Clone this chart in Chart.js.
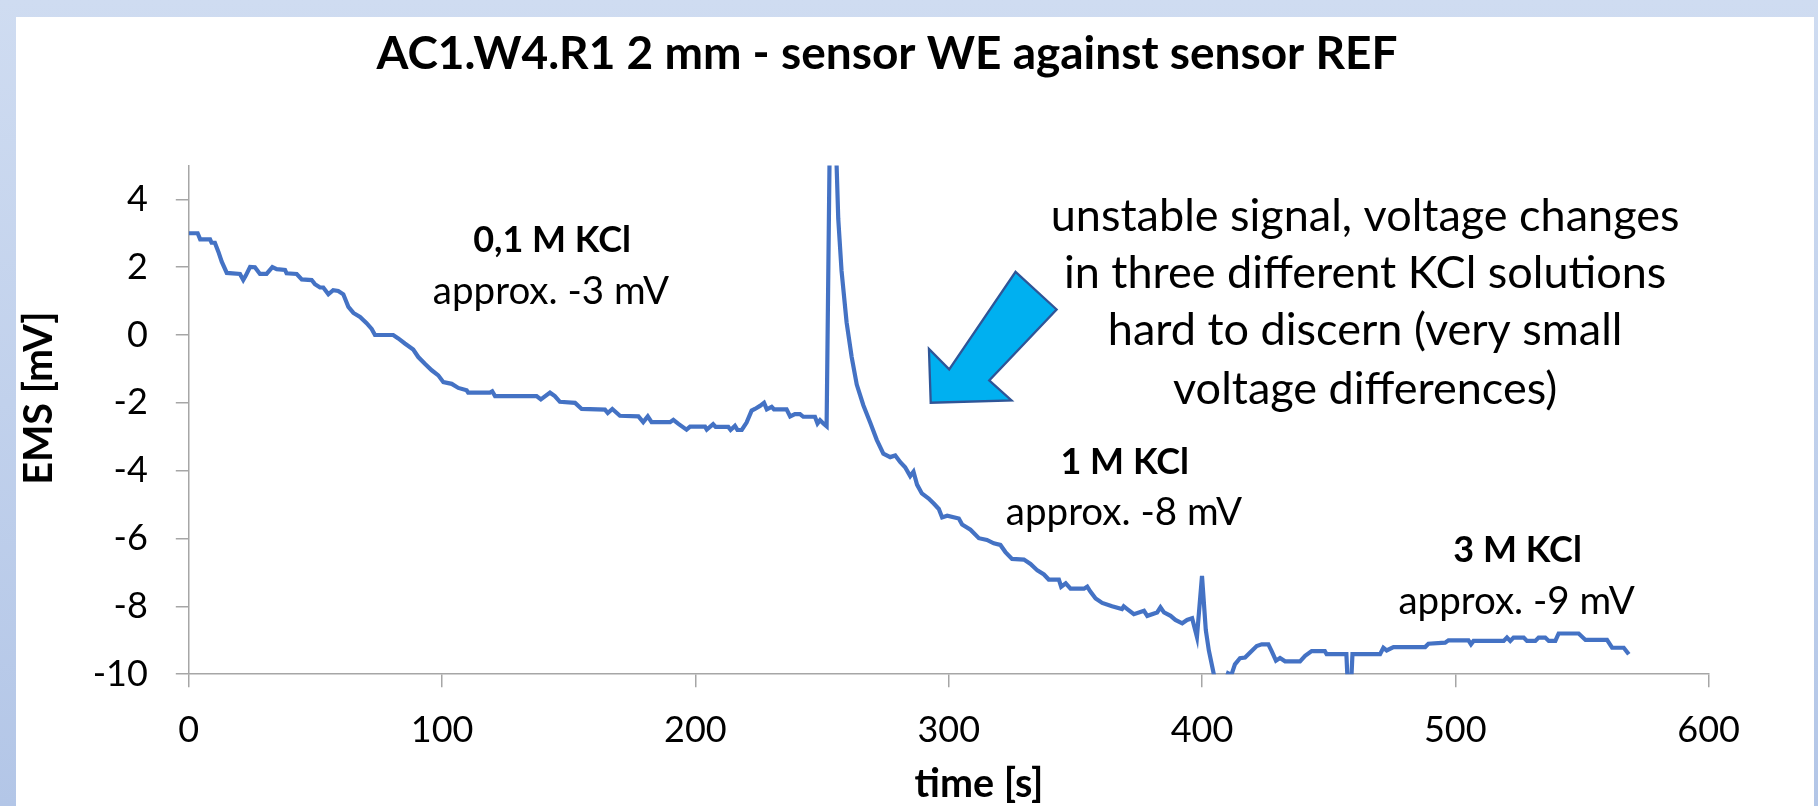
<!DOCTYPE html>
<html>
<head>
<meta charset="utf-8">
<script src="https://cdn.jsdelivr.net/npm/chart.js@4.4.0/dist/chart.umd.min.js"></script>
<style>
  html, body { margin: 0; padding: 0; }
  body {
    width: 1818px; height: 806px; overflow: hidden; position: relative;
    background: linear-gradient(#cfdcf1, #b3c6e7);
  }
  #frame { position: absolute; left: 16px; top: 17px; width: 1798px; height: 789px; background: #fff; }
  canvas { display: block; }
</style>
</head>
<body>
<div id="frame"><canvas id="emsChart" width="1798" height="789"></canvas></div>
<script>
const timeS = [
  0, 3.5, 4.5, 8.4, 9.0, 10.3, 11.7, 13.0, 15.0, 20.2, 21.5, 22.5, 24.2, 26.1, 28.1, 30.7,
  33.0, 34.7, 38.0, 38.6, 42.6, 44.6, 48.5, 49.8, 51.8, 53.1, 55.1, 57.0, 59.0, 61.0, 63.0,
  65.0, 67.6, 70.2, 72.2, 73.5, 80.7, 82.7, 85.3, 88.6, 90.6, 93.2, 95.9, 98.5, 100.5, 103.8,
  106.4, 109.7, 110.3, 118.9, 119.8, 120.9, 137.3, 139.0, 142.6, 144.5, 146.5, 152.5, 155.1,
  164.3, 165.4, 167.2, 170.2, 177.5, 179.4, 181.2, 182.7, 190.0, 191.3, 193.3, 196.5, 197.9,
  203.8, 204.5, 207.0, 208.0, 213.0, 213.9, 215.6, 216.6, 218.3, 220.2, 222.2, 223.5, 225.5,
  227.1, 228.2, 230.1, 231.0, 236.0, 237.4, 239.3, 241.3, 242.6, 247.2, 248.2, 249.2, 250.5,
  251.8, 253.6, 255.5, 256.4, 257.7, 259.7, 261.7, 263.7, 266.3, 269.0, 271.6, 274.2, 276.9,
  278.9, 280.9, 282.8, 284.8, 286.1, 287.5, 289.4, 292.1, 294.1, 296.1, 297.4, 299.4, 304.0,
  305.3, 308.6, 311.9, 315.1, 317.8, 320.4, 322.4, 325.0, 329.7, 332.3, 335.0, 337.6, 339.5,
  343.5, 344.4, 346.2, 348.1, 353.4, 354.7, 356.0, 358.0, 360.6, 364.5, 368.4, 369.1, 370.5,
  373.1, 377.1, 378.4, 382.3, 383.6, 385.0, 387.6, 389.5, 392.2, 394.1, 396.1, 398.0, 400.0,
  401.5, 402.7, 404.8, 406.5, 409.3, 410.3, 411.6, 413.0, 415.0, 417.0, 419.0, 421.6, 423.6,
  426.2, 427.5, 429.2, 430.8, 432.8, 438.7, 440.7, 443.3, 448.5, 449.2, 457.0, 457.6, 458.8,
  459.4, 470.3, 471.6, 472.9, 475.6, 488.1, 489.4, 496.0, 497.3, 505.2, 506.2, 507.2, 519.1,
  520.4, 521.7, 523.0, 527.0, 528.3, 531.6, 532.9, 535.5, 536.9, 539.5, 540.8, 548.7, 551.4,
  559.9, 561.9, 566.5, 568.5
];
const emsMv = [
  3.0, 3.0, 2.82, 2.82, 2.72, 2.72, 2.45, 2.16, 1.83, 1.80, 1.62, 1.75, 2.01, 2.00, 1.80, 1.80,
  2.00, 1.94, 1.92, 1.82, 1.80, 1.64, 1.62, 1.50, 1.40, 1.40, 1.20, 1.32, 1.30, 1.20, 0.83,
  0.65, 0.53, 0.35, 0.18, 0.0, 0.0, -0.10, -0.25, -0.43, -0.65, -0.85, -1.04, -1.19, -1.39, -1.44,
  -1.56, -1.63, -1.70, -1.70, -1.66, -1.80, -1.80, -1.90, -1.70, -1.80, -1.97, -2.00, -2.18,
  -2.20, -2.30, -2.18, -2.38, -2.40, -2.57, -2.40, -2.57, -2.57, -2.50, -2.62, -2.79, -2.70,
  -2.70, -2.79, -2.63, -2.71, -2.71, -2.80, -2.68, -2.80, -2.80, -2.58, -2.23, -2.18, -2.09,
  -2.00, -2.19, -2.12, -2.19, -2.19, -2.40, -2.33, -2.33, -2.41, -2.41, -2.61, -2.51, -2.61,
  -2.69, 9.5, 5.6, 3.42, 1.89, 0.37, -0.65, -1.46, -2.07, -2.58, -3.09, -3.50, -3.60,
  -3.55, -3.75, -3.90, -4.16, -4.03, -4.41, -4.67, -4.82, -4.97, -5.13, -5.38, -5.33, -5.41,
  -5.59, -5.74, -5.99, -6.04, -6.14, -6.19, -6.40, -6.60, -6.62, -6.75, -6.94, -7.06, -7.21,
  -7.21, -7.42, -7.32, -7.48, -7.48, -7.42, -7.57, -7.77, -7.90, -8.00, -8.08, -8.00, -8.08,
  -8.23, -8.13, -8.28, -8.18, -8.03, -8.18, -8.28, -8.40, -8.50, -8.40, -8.35, -8.90, -7.10,
  -8.70, -9.30, -10.05, -10.5, -10.2, -9.97, -10.02, -9.71, -9.53, -9.51, -9.36, -9.17, -9.12,
  -9.12, -9.32, -9.60, -9.52, -9.62, -9.62, -9.46, -9.32, -9.32, -9.41, -9.41, -10.4, -10.4,
  -9.41, -9.41, -9.22, -9.30, -9.20, -9.20, -9.10, -9.07, -9.00, -9.00, -9.12, -9.02, -9.02,
  -8.92, -9.02, -8.92, -8.92, -9.02, -9.02, -8.92, -8.92, -9.02, -9.02, -8.80, -8.80, -8.99,
  -8.99, -9.22, -9.22, -9.41
];

const xTickStep = 100;
const yTickStep = 2;

const chartTitle = 'AC1.W4.R1 2 mm - sensor WE against sensor REF';
const xTitle = 'time [s]';
const yTitle = 'EMS [mV]';

// text notes, placed in data units (centre x, baseline y)
const notes = [
  { text: '0,1 M KCl', t: 143.4, v: 2.44, bold: true },
  { text: 'approx. -3 mV', t: 143.0, v: 0.91, bold: false },
  { text: '1 M KCl', t: 369.5, v: -4.09, bold: true },
  { text: 'approx. -8 mV', t: 369.2, v: -5.59, bold: false },
  { text: '3 M KCl', t: 524.6, v: -6.69, bold: true },
  { text: 'approx. -9 mV', t: 524.2, v: -8.23, bold: false }
];
const remarkLines = [
  'unstable signal, voltage changes',
  'in three different KCl solutions',
  'hard to discern (very small',
  'voltage differences)'
];
const remarkT = 464.4;
const remarkV = [3.06, 1.40, -0.30, -2.02];

// block arrow outline, in data units
const arrowT = [326.4, 342.6, 316.0, 324.8, 292.9, 292.2, 300.2];
const arrowV = [1.862, 0.751, -1.339, -1.928, -1.996, -0.411, -1.014];

const FONT = 'Lato, "Open Sans", sans-serif';

const overlay = {
  id: 'overlay',
  afterDatasetsDraw(chart) {
    const { ctx, scales: { x, y } } = chart;
    ctx.save();

    ctx.beginPath();
    arrowT.forEach((t, i) => {
      const px = x.getPixelForValue(t), py = y.getPixelForValue(arrowV[i]);
      if (i === 0) ctx.moveTo(px, py); else ctx.lineTo(px, py);
    });
    ctx.closePath();
    ctx.fillStyle = '#00b0f0';
    ctx.fill();
    ctx.strokeStyle = '#2f5597';
    ctx.lineWidth = 2.3;
    ctx.lineJoin = 'miter';
    ctx.stroke();

    ctx.fillStyle = '#000';
    ctx.textAlign = 'center';
    ctx.textBaseline = 'alphabetic';

    notes.forEach(n => {
      ctx.font = (n.bold ? 'bold 36px ' : '38.5px ') + FONT;
      ctx.fillText(n.text, x.getPixelForValue(n.t), y.getPixelForValue(n.v));
    });

    ctx.font = '45px ' + FONT;
    remarkLines.forEach((line, i) => {
      ctx.fillText(line, x.getPixelForValue(remarkT), y.getPixelForValue(remarkV[i]));
    });

    ctx.font = 'bold 46px ' + FONT;
    ctx.fillText(chartTitle, 871, 52);

    ctx.font = 'bold 39.5px ' + FONT;
    ctx.fillText(xTitle, 963, 780);

    ctx.translate(36, 381);
    ctx.rotate(-Math.PI / 2);
    ctx.fillText(yTitle, 0, 0);

    ctx.restore();
  }
};

const axisGrey = '#a6a6a6';

new Chart(document.getElementById('emsChart').getContext('2d'), {
  type: 'line',
  data: {
    datasets: [{
      label: 'EMS',
      data: timeS.map((t, i) => ({ x: t, y: emsMv[i] })),
      borderColor: '#4472c4',
      borderWidth: 4.2,
      pointRadius: 0,
      tension: 0,
      fill: false
    }]
  },
  options: {
    responsive: false,
    animation: false,
    layout: { padding: { left: 0, right: 105.4, top: 148.4, bottom: 0 } },
    plugins: {
      legend: { display: false },
      tooltip: { enabled: false }
    },
    scales: {
      x: {
        type: 'linear',
        min: 0,
        max: 600,
        ticks: { stepSize: xTickStep, padding: 22, color: '#000', font: { family: FONT, size: 36 } },
        grid: { drawOnChartArea: false, tickLength: 13, color: axisGrey, lineWidth: 1.5 },
        border: { color: axisGrey, width: 1.5 },
        afterFit: (scale) => { scale.height = 131.8; }
      },
      y: {
        min: -10,
        max: 5,
        ticks: { stepSize: yTickStep, padding: 28, color: '#000', font: { family: FONT, size: 36 } },
        afterBuildTicks: (scale) => {
          scale.ticks = scale.ticks.filter(tick => tick.value <= 4);
        },
        grid: { drawOnChartArea: false, tickLength: 13, color: axisGrey, lineWidth: 1.5 },
        border: { color: axisGrey, width: 1.5 },
        afterFit: (scale) => { scale.width = 172.8; }
      }
    }
  },
  plugins: [overlay]
});
</script>
</body>
</html>
